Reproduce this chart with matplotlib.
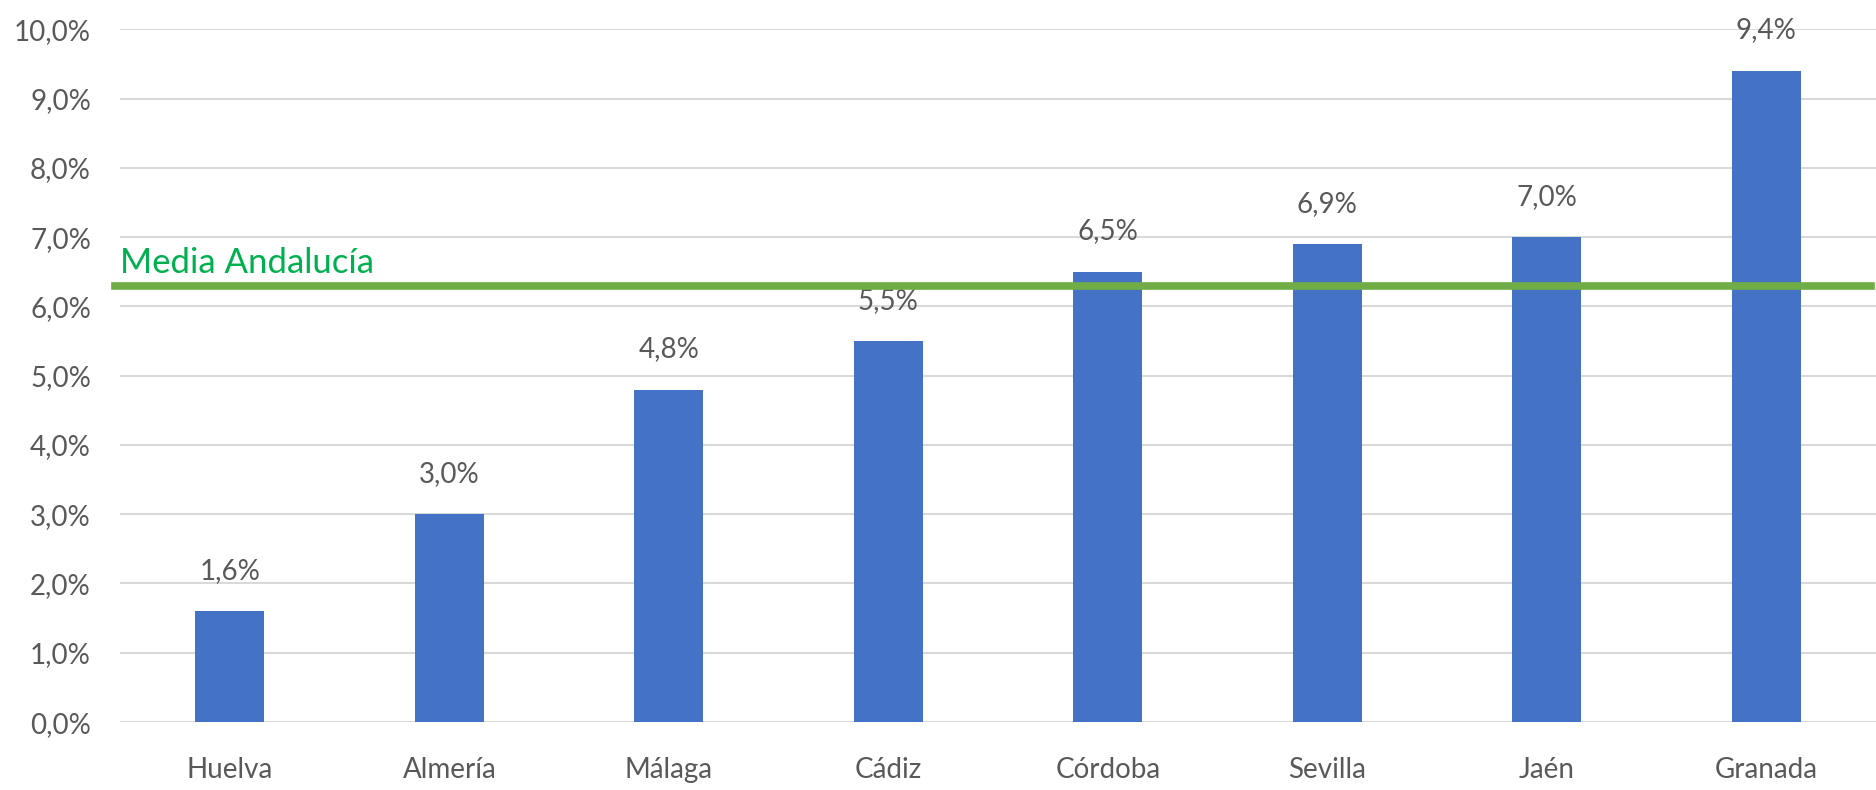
import matplotlib
matplotlib.use("Agg")
import matplotlib.pyplot as plt
from matplotlib.ticker import FuncFormatter

provincias = ["Huelva", "Almería", "Málaga", "Cádiz", "Córdoba", "Sevilla", "Jaén", "Granada"]
valores = [1.6, 3.0, 4.8, 5.5, 6.5, 6.9, 7.0, 9.4]
media_andalucia = 6.3
media_label = "Media Andalucía"

plt.rcParams['font.family'] = ['Lato', 'DejaVu Sans']
gris = "#595959"

fig = plt.figure(figsize=(18.76, 7.9), dpi=100)
ax = fig.add_axes([0.064, 0.086, 0.936, 0.877])

x = range(len(provincias))
bars = ax.bar(x, valores, width=0.315, color="#4472C4", zorder=2)

for xi, v in zip(x, valores):
    ax.annotate(f"{v:.1f}%".replace(".", ","), (xi, v), xytext=(0, 29),
                textcoords="offset points", ha="center", va="center",
                fontsize=20, color=gris, zorder=3)

# linea de la media, por encima de barras y etiquetas
ax.axhline(media_andalucia, xmin=-0.003, xmax=0.997, color="#70AD47", lw=5.5,
           zorder=5, clip_on=False)
ax.text(-0.5, media_andalucia + 0.1, media_label, color="#00B050", fontsize=25,
        ha="left", va="bottom", zorder=6)

ax.set_xlim(-0.5, 7.5)
ax.set_ylim(0, 10)
ax.set_yticks(range(0, 11))
ax.yaxis.set_major_formatter(FuncFormatter(lambda v, p: f"{v:.1f}%".replace(".", ",")))
ax.set_xticks(list(x))
ax.set_xticklabels(provincias)
ax.tick_params(axis="y", length=0, pad=21, labelsize=20, labelcolor=gris)
ax.tick_params(axis="x", length=0, pad=25, labelsize=20, labelcolor=gris)
ax.grid(axis="y", color="#D9D9D9", lw=1.5, zorder=0)
ax.set_axisbelow(True)
for s in ax.spines.values():
    s.set_visible(False)

fig.savefig("out.png", dpi=100)
